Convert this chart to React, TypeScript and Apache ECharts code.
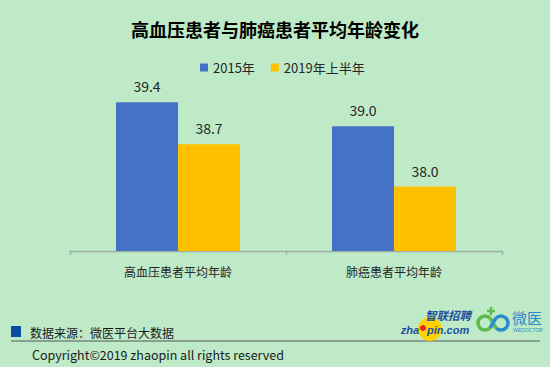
import React, { useEffect, useRef } from "react";
import * as echarts from "echarts";

const titleText = "高血压患者与肺癌患者平均年龄变化";
const categories = ["高血压患者平均年龄", "肺癌患者平均年龄"];
const seriesNames = ["2015年", "2019年上半年"];
const values2015 = [39.4, 39.0];
const values2019H1 = [38.7, 38.0];
const sourceText = "数据来源：微医平台大数据";
const copyrightText = "Copyright©2019 zhaopin all rights reserved";

const CJK = '"Noto Sans CJK SC", "Noto Sans", sans-serif';

export default function App() {
  const ref = useRef<HTMLDivElement>(null);
  useEffect(() => {
    document.body.style.margin = "0";
    const chart = echarts.init(ref.current!, undefined, { renderer: "svg" });
    const PI = Math.PI;
    chart.setOption({
      animation: false,
      backgroundColor: "#BFEAC8",
      title: {
        text: titleText,
        left: "center",
        top: 15,
        textStyle: { fontSize: 18, fontWeight: "bold", color: "#000", fontFamily: CJK },
      },
      legend: {
        data: seriesNames,
        left: 195,
        top: 56,
        icon: "rect",
        itemWidth: 8,
        itemHeight: 8,
        itemGap: 16,
        textStyle: { fontSize: 13, color: "#262626", fontFamily: CJK },
      },
      grid: { left: 70, right: 48, top: 66, bottom: 116 },
      xAxis: {
        type: "category",
        data: categories,
        axisLine: { lineStyle: { color: "#9DB0A1", width: 1.3 } },
        axisTick: { show: true, length: 4, lineStyle: { color: "#9DB0A1", width: 1.3 } },
        axisLabel: { fontSize: 12, color: "#262626", margin: 14, fontFamily: CJK },
      },
      yAxis: {
        type: "value",
        min: 36.93,
        max: 40,
        show: false,
        splitLine: { show: false },
      },
      series: [
        {
          name: seriesNames[0],
          type: "bar",
          data: values2015,
          barWidth: 62,
          barGap: "0%",
          itemStyle: { color: "#4472C4" },
          label: {
            show: true,
            position: "top",
            distance: 9,
            fontSize: 14,
            color: "#262626",
            fontFamily: CJK,
            formatter: (p: any) => Number(p.value).toFixed(1),
          },
        },
        {
          name: seriesNames[1],
          type: "bar",
          data: values2019H1,
          barWidth: 62,
          barGap: "0%",
          itemStyle: { color: "#FFC000" },
          label: {
            show: true,
            position: "top",
            distance: 9,
            fontSize: 14,
            color: "#262626",
            fontFamily: CJK,
            formatter: (p: any) => Number(p.value).toFixed(1),
          },
        },
      ],
      graphic: [
        { type: "rect", shape: { x: 11, y: 326, width: 10, height: 11 }, style: { fill: "#0A4EA8" } },
        {
          type: "text",
          x: 30,
          y: 332,
          style: { text: sourceText, font: `12px ${CJK}`, fill: "#1a1a1a", verticalAlign: "middle" },
        },
        { type: "line", shape: { x1: 11, y1: 341, x2: 540, y2: 341 }, style: { stroke: "#555", lineWidth: 1 } },
        {
          type: "text",
          x: 32,
          y: 354,
          style: { text: copyrightText, font: `12.5px ${CJK}`, fill: "#1a1a1a", verticalAlign: "middle" },
        },
        // zhaopin logo
        { type: "circle", shape: { cx: 430, cy: 329, r: 12 }, style: { fill: "#FFD200" } },
        {
          type: "text",
          x: 448,
          y: 315,
          style: { text: "智联招聘", font: `italic bold 11.5px ${CJK}`, fill: "#1F4E9E", align: "center", verticalAlign: "middle" },
        },
        {
          type: "text",
          x: 419,
          y: 330,
          style: { text: "zha", font: "italic bold 11px 'Liberation Sans', sans-serif", fill: "#1F4E9E", align: "right", verticalAlign: "middle" },
        },
        { type: "circle", shape: { cx: 423, cy: 328, r: 3 }, style: { fill: "#D8262B" } },
        {
          type: "text",
          x: 427,
          y: 330,
          style: { text: "pin.com", font: "italic bold 11px 'Liberation Sans', sans-serif", fill: "#1F4E9E", align: "left", verticalAlign: "middle" },
        },
        // wedoctor logo
        {
          type: "arc",
          shape: { cx: 485, cy: 323, r: 7, startAngle: PI / 4, endAngle: (7 * PI) / 4, clockwise: true },
          style: { stroke: "#5DBB4E", lineWidth: 3.5, fill: "none" },
        },
        {
          type: "arc",
          shape: { cx: 501, cy: 323, r: 7, startAngle: (5 * PI) / 4, endAngle: (11 * PI) / 4, clockwise: true },
          style: { stroke: "#2B8CCB", lineWidth: 3.5, fill: "none" },
        },
        { type: "line", shape: { x1: 490, y1: 318, x2: 496, y2: 328 }, style: { stroke: "#5DBB4E", lineWidth: 3.5 } },
        { type: "line", shape: { x1: 496, y1: 318, x2: 490, y2: 328 }, style: { stroke: "#2B8CCB", lineWidth: 3.5 } },
        { type: "line", shape: { x1: 487, y1: 311, x2: 495, y2: 311 }, style: { stroke: "#5DBB4E", lineWidth: 2.5 } },
        { type: "line", shape: { x1: 491, y1: 307, x2: 491, y2: 315 }, style: { stroke: "#5DBB4E", lineWidth: 2.5 } },
        {
          type: "text",
          x: 512,
          y: 317,
          style: { text: "微医", font: `15px ${CJK}`, fill: "#2B8CCB", verticalAlign: "middle" },
        },
        {
          type: "text",
          x: 513,
          y: 330,
          style: { text: "WEDOCTOR", font: "5px 'Liberation Sans', sans-serif", fill: "#2B8CCB", verticalAlign: "middle" },
        },
      ],
    });
    return () => chart.dispose();
  }, []);
  return <div ref={ref} style={{ width: 550, height: 367, position: "absolute", left: 0, top: 0 }} />;
}
